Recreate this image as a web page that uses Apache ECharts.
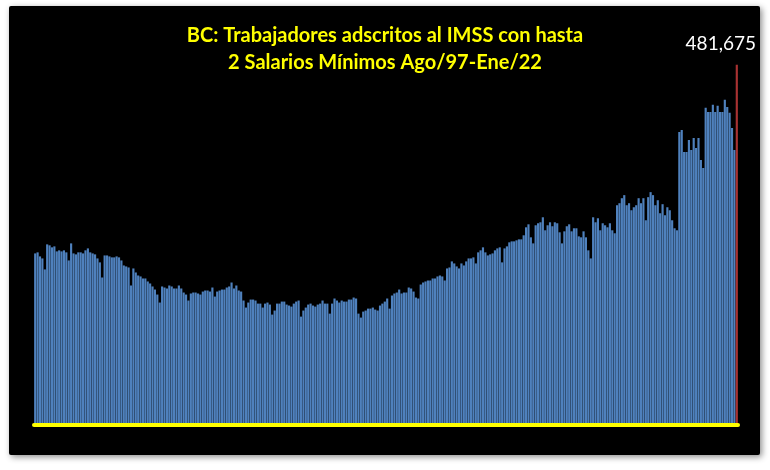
<!DOCTYPE html>
<html>
<head>
<meta charset="utf-8">
<script src="https://cdn.jsdelivr.net/npm/echarts@6/dist/echarts.min.js"></script>
<style>
html, body { margin: 0; padding: 0; background: #ffffff; }
#grafica { width: 770px; height: 470px; }
</style>
</head>
<body>
<div id="grafica"></div>
<script>
// meses Ago/97 - Ene/22
var mesesCortos = ['Ene', 'Feb', 'Mar', 'Abr', 'May', 'Jun', 'Jul', 'Ago', 'Sep', 'Oct', 'Nov', 'Dic'];
var inicioAnio = 1997, inicioMes = 7;   // Ago/97
var finAnio = 2022, finMes = 0;         // Ene/22

// trabajadores con hasta 2 salarios minimos (BC)
var trabajadores = [
	229400, 230800, 225400, 222700, 208000, 241500, 240200, 237500, 238800, 232100,
	233500, 232100, 233500, 230800, 220000, 242800, 229400, 228100, 230800, 230800,
	229400, 233500, 236100, 230800, 229400, 228100, 222700, 217400, 197200, 226700,
	226700, 225400, 224100, 224100, 225400, 224100, 220000, 213300, 212000, 210600,
	186500, 209300, 203900, 199900, 198600, 195900, 195900, 191900, 189200, 185200,
	181100, 174400, 163700, 185200, 183800, 182500, 186500, 185200, 182500, 182500,
	186500, 182500, 177100, 174400, 166400, 175800, 177100, 177100, 175800, 174400,
	178400, 179800, 179800, 178400, 183800, 171700, 178400, 179800, 181100, 181100,
	183800, 185200, 190500, 182500, 186500, 179800, 178400, 166400, 157000, 163700,
	167700, 167700, 166400, 162300, 162300, 157000, 162300, 163700, 161000, 147600,
	153000, 162300, 162300, 165000, 165000, 161000, 159700, 158300, 162300, 165000,
	166400, 144900, 153000, 157000, 161000, 162300, 159700, 158300, 161000, 162300,
	166400, 162300, 162300, 148900, 162300, 169100, 166400, 163700, 166400, 165000,
	165000, 167700, 167700, 170400, 169100, 148900, 143600, 151600, 153000, 155600,
	155600, 157000, 154300, 153000, 159700, 162300, 165000, 169100, 155600, 173100,
	175800, 177100, 181100, 175800, 177100, 177100, 183800, 182500, 178400, 170400,
	169100, 187800, 190500, 191900, 193200, 193200, 195900, 195900, 198600, 199900,
	198600, 193200, 209300, 210600, 218700, 216000, 212000, 209300, 216000, 213300,
	218700, 222700, 222700, 224100, 216000, 230800, 233500, 237500, 230800, 226700,
	228100, 229400, 233500, 236100, 237500, 217400, 236100, 238800, 244200, 245500,
	245500, 246900, 248200, 248200, 253600, 264300, 268300, 250900, 242800, 267000,
	269700, 271000, 277700, 260300, 267000, 271000, 265700, 271000, 269700, 257600,
	242800, 258900, 265700, 268300, 258900, 263000, 263000, 252200, 250900, 258900,
	250900, 233500, 222700, 277700, 271000, 276400, 260300, 269700, 267000, 264300,
	269700, 260300, 256300, 293800, 296500, 303200, 307300, 293800, 296500, 287100,
	291100, 293800, 303200, 296500, 303200, 273700, 304600, 311300, 307300, 293800,
	300500, 283100, 295200, 280400, 291100, 287100, 273700, 263000, 260300, 391800,
	394500, 364900, 364900, 381000, 367600, 383700, 370300, 383700, 354200, 343500,
	424000, 418600, 418600, 428000, 418600, 426700, 418600, 418600, 434700, 425300,
	417300, 397100, 367600, 481675
];

var categorias = new Array();
var a = inicioAnio, m = inicioMes;
while (a < finAnio || (a == finAnio && m <= finMes)) {
	categorias.push(mesesCortos[m] + '/' + String(a).substr(2));
	m++;
	if (m > 11) { m = 0; a++; }
}

var ultimo = trabajadores.length - 1;
var datos = new Array();
for (var i = 0; i < trabajadores.length; i++) {
	if (i == ultimo) {
		datos.push({
			value : trabajadores[i],
			itemStyle : { color : '#A83232' },
			label : {
				show : true,
				position : 'top',
				offset : [ -16, -6 ],
				color : '#ffffff',
				fontFamily : 'Lato',
				fontSize : 19,
				formatter : function(p) {
					return p.value.toLocaleString('en-US');
				}
			}
		});
	} else {
		datos.push(trabajadores[i]);
	}
}

var chart = echarts.init(document.getElementById('grafica'));
var option = {
	animation : false,
	backgroundColor : '#ffffff',
	graphic : [
		{
			type : 'rect',
			z : -10,
			shape : { x : 9, y : 6, width : 751, height : 449, r : 2 },
			style : {
				fill : '#000000',
				shadowBlur : 6,
				shadowOffsetX : 2,
				shadowOffsetY : 2,
				shadowColor : 'rgba(0,0,0,0.45)'
			}
		}
	],
	title : {
		text : 'BC: Trabajadores adscritos al IMSS con hasta\n2 Salarios Mínimos Ago/97-Ene/22',
		left : 'center',
		top : 17,
		textStyle : {
			color : '#FFFF00',
			fontFamily : 'Lato',
			fontWeight : 'bold',
			fontSize : 20,
			lineHeight : 27
		}
	},
	grid : {
		left : 34,
		right : 32,
		top : 51,
		bottom : 45
	},
	xAxis : {
		type : 'category',
		data : categorias,
		z : 5,
		axisLine : { lineStyle : { color : '#FFFF00', width : 4 } },
		axisTick : { show : false },
		axisLabel : { show : false }
	},
	yAxis : {
		type : 'value',
		min : 0,
		max : 500000,
		show : false,
		splitLine : { show : false }
	},
	series : [
		{
			type : 'bar',
			data : datos,
			barCategoryGap : '10%',
			itemStyle : { color : '#4F81BD' }
		}
	]
};
chart.setOption(option);
</script>
</body>
</html>
